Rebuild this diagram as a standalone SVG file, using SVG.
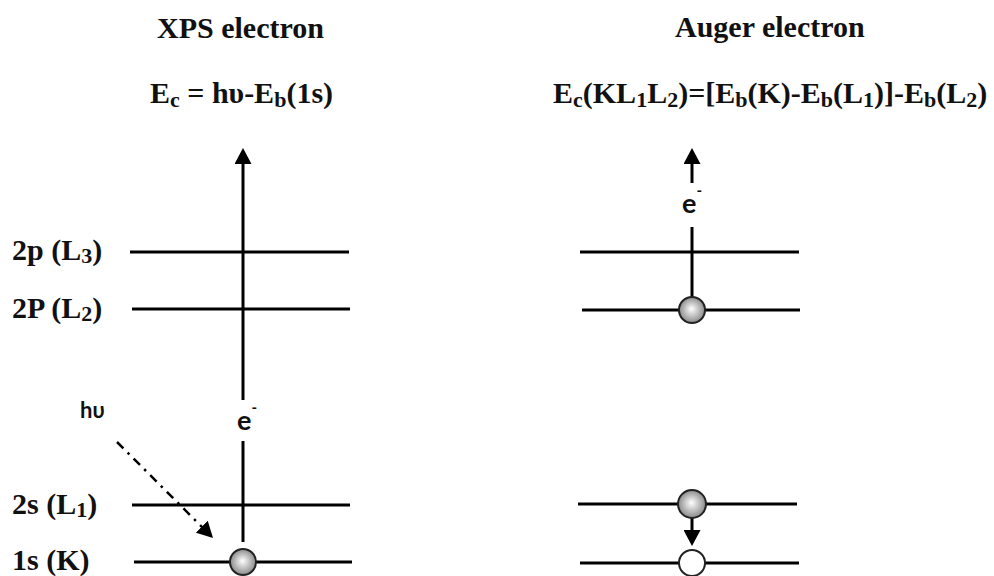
<svg xmlns="http://www.w3.org/2000/svg" width="994" height="576" viewBox="0 0 994 576">
<style>
.t{font-family:"Liberation Serif","Times New Roman",serif;font-weight:bold;fill:#111}
.title{font-size:30px}
.eq{font-size:30px}
.lab{font-size:30px}
.sub{font-size:22px}
.s{font-family:Lato,"Open Sans","Liberation Sans",sans-serif;font-weight:bold;fill:#111}
.lvl{stroke:#000;stroke-width:3;fill:none}
.con{stroke:#000;stroke-width:3;fill:none}
.dd{stroke:#000;stroke-width:2.5;fill:none;stroke-dasharray:9 6 2.5 6}
.ball{fill:url(#g);stroke:#222;stroke-width:2}
.hole{fill:#fff;stroke:#222;stroke-width:2}
</style>
<defs>
<radialGradient id="g" cx="0.5" cy="0.5" r="0.5" fx="0.48" fy="0.45">
<stop offset="0" stop-color="#ffffff"/>
<stop offset="1" stop-color="#8a8a8a"/>
</radialGradient>
<marker id="ah" viewBox="0 0 16 17" refX="12" refY="8.5" markerWidth="16" markerHeight="17" markerUnits="userSpaceOnUse" orient="auto">
<path d="M0,0 L16,8.5 L0,17 z" fill="#000" stroke="none"/>
</marker>
</defs>
<rect width="994" height="576" fill="#fff"/>

<g id="titles">
<text class="t title" x="157" y="38">XPS electron</text>
<text class="t title" x="675" y="37">Auger electron</text>
<text class="t eq" x="150" y="103">E<tspan class="sub" dy="4">c</tspan><tspan dy="-4"> = hυ-E</tspan><tspan class="sub" dy="4">b</tspan><tspan dy="-4">(1s)</tspan></text>
<text class="t eq" x="553" y="103">E<tspan class="sub" dy="4">c</tspan><tspan dy="-4">(KL</tspan><tspan class="sub" dy="4">1</tspan><tspan dy="-4">L</tspan><tspan class="sub" dy="4">2</tspan><tspan dy="-4">)=[E</tspan><tspan class="sub" dy="4">b</tspan><tspan dy="-4">(K)-E</tspan><tspan class="sub" dy="4">b</tspan><tspan dy="-4">(L</tspan><tspan class="sub" dy="4">1</tspan><tspan dy="-4">)]-E</tspan><tspan class="sub" dy="4">b</tspan><tspan dy="-4">(L</tspan><tspan class="sub" dy="4">2</tspan><tspan dy="-4">)</tspan></text>
</g>

<g id="level-L3">
<text class="t lab" x="12" y="260">2p (L<tspan class="sub" dy="3">3</tspan><tspan dy="-3">)</tspan></text>
<line class="lvl" x1="130" y1="252" x2="349" y2="252"/>
<line class="lvl" x1="580" y1="252" x2="799" y2="252"/>
</g>
<g id="level-L2">
<text class="t lab" x="12" y="318">2P (L<tspan class="sub" dy="3">2</tspan><tspan dy="-3">)</tspan></text>
<line class="lvl" x1="132" y1="309" x2="350" y2="309"/>
<line class="lvl" x1="582" y1="310" x2="800" y2="310"/>
</g>
<g id="level-L1">
<text class="t lab" x="12" y="514">2s (L<tspan class="sub" dy="3">1</tspan><tspan dy="-3">)</tspan></text>
<line class="lvl" x1="132" y1="505" x2="350" y2="505"/>
<line class="lvl" x1="578" y1="504" x2="797" y2="504"/>
</g>
<g id="level-K">
<text class="t lab" x="12" y="570">1s (K)</text>
<line class="lvl" x1="134" y1="562" x2="352" y2="562"/>
<line class="lvl" x1="580" y1="563" x2="799" y2="563"/>
</g>

<g id="connectors">
<line class="con" x1="243" y1="400" x2="243" y2="152" marker-end="url(#ah)"/>
<line class="con" x1="243" y1="441" x2="243" y2="542"/>
<line class="dd" x1="117" y1="442" x2="210.2" y2="535.2" marker-end="url(#ah)"/>
<line class="con" x1="692" y1="183" x2="692" y2="152" marker-end="url(#ah)"/>
<line class="con" x1="692" y1="227" x2="692" y2="297"/>
<line class="con" x1="692" y1="518" x2="692" y2="542" marker-end="url(#ah)"/>
</g>

<g id="xps-labels">
<text class="s" x="80" y="418" font-size="22">hυ</text>
<text class="s" x="237" y="430" font-size="27">e<tspan font-size="15" dy="-17">-</tspan></text>
</g>
<g id="auger-labels">
<text class="s" x="682" y="213" font-size="27">e<tspan font-size="15" dy="-17">-</tspan></text>
</g>

<g id="electron-xps-K"><circle class="ball" cx="243" cy="562" r="13"/></g>
<g id="electron-auger-L2"><circle class="ball" cx="692" cy="310" r="13"/></g>
<g id="electron-auger-L1"><circle class="ball" cx="692" cy="504" r="14"/></g>
<g id="hole-auger-K"><circle class="hole" cx="692" cy="563" r="13"/></g>
</svg>
